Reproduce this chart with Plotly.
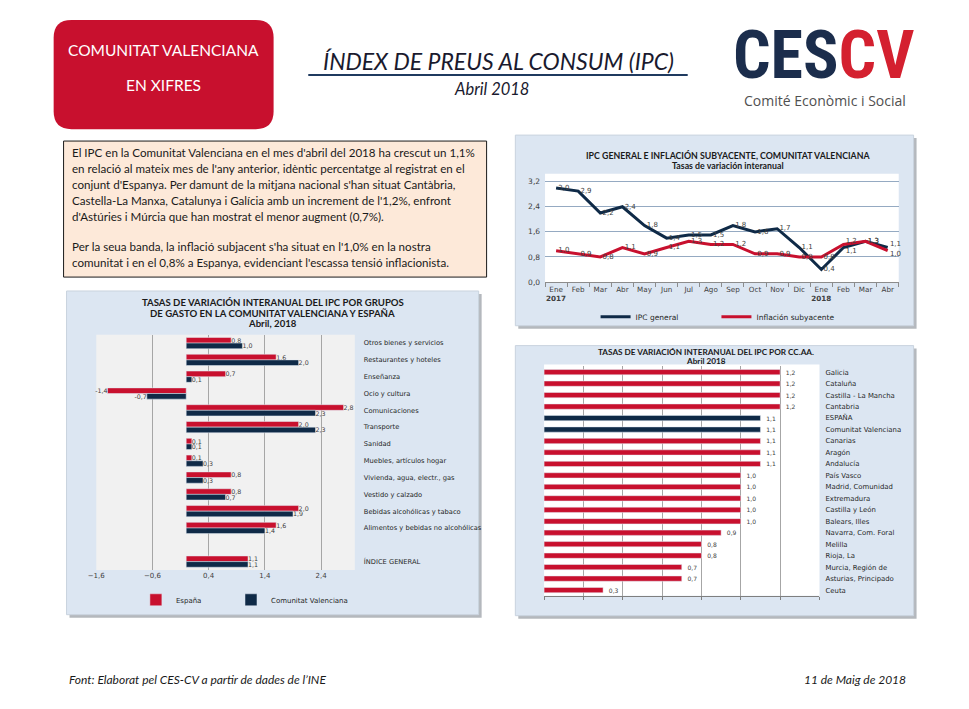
import plotly.graph_objects as go

# ---------------- data ----------------
periods = ["Ene 2017", "Feb 2017", "Mar 2017", "Abr 2017", "May 2017", "Jun 2017", "Jul 2017",
           "Ago 2017", "Sep 2017", "Oct 2017", "Nov 2017", "Dic 2017", "Ene 2018", "Feb 2018",
           "Mar 2018", "Abr 2018"]
period_labels = ["Ene<br><b>2017</b>", "Feb", "Mar", "Abr", "May", "Jun", "Jul", "Ago", "Sep", "Oct",
                 "Nov", "Dic", "Ene<br><b>2018</b>", "Feb", "Mar", "Abr"]
ipc_general = [3.0, 2.9, 2.2, 2.4, 1.8, 1.4, 1.5, 1.5, 1.8, 1.6, 1.7, 1.1, 0.4, 1.1, 1.3, 1.1]
inflacion_subyacente = [1.0, 0.9, 0.8, 1.1, 0.9, 1.1, 1.3, 1.2, 1.2, 0.9, 0.9, 0.8, 0.8, 1.2, 1.3, 1.0]

grupos = ["Otros bienes y servicios", "Restaurantes y hoteles", "Enseñanza", "Ocio y cultura",
          "Comunicaciones", "Transporte", "Sanidad", "Muebles, artículos hogar",
          "Vivienda, agua, electr., gas", "Vestido y calzado", "Bebidas alcohólicas y tabaco",
          "Alimentos y bebidas no alcohólicas", " ", "ÍNDICE GENERAL"]
espana_grupos = [0.8, 1.6, 0.7, -1.4, 2.8, 2.0, 0.1, 0.1, 0.8, 0.8, 2.0, 1.6, None, 1.1]
cv_grupos = [1.0, 2.0, 0.1, -0.7, 2.3, 2.3, 0.1, 0.3, 0.3, 0.7, 1.9, 1.4, None, 1.1]

ccaa = ["Galicia", "Cataluña", "Castilla - La Mancha", "Cantabria", "ESPAÑA", "Comunitat Valenciana",
        "Canarias", "Aragón", "Andalucía", "País Vasco", "Madrid, Comunidad", "Extremadura",
        "Castilla y León", "Balears, Illes", "Navarra, Com. Foral", "Melilla", "Rioja, La",
        "Murcia, Región de", "Asturias, Principado", "Ceuta"]
ipc_ccaa = [1.2, 1.2, 1.2, 1.2, 1.1, 1.1, 1.1, 1.1, 1.1, 1.0, 1.0, 1.0, 1.0, 1.0, 0.9, 0.8, 0.8, 0.7, 0.7, 0.3]
destacadas = ["ESPAÑA", "Comunitat Valenciana"]

texto = [
    "El IPC en la Comunitat Valenciana en el mes d'abril del 2018 ha crescut un 1,1%",
    "en relació al mateix mes de l'any anterior, idèntic percentatge al registrat en el",
    "conjunt d'Espanya. Per damunt de la mitjana nacional s'han situat Cantàbria,",
    "Castella-La Manxa, Catalunya i Galícia amb un increment de l'1,2%, enfront",
    "d'Astúries i Múrcia que han mostrat el menor augment (0,7%).",
    "",
    "Per la seua banda, la inflació subjacent s'ha situat en l'1,0% en la nostra",
    "comunitat i en el 0,8% a Espanya, evidenciant l'escassa tensió inflacionista.",
]

# ---------------- style ----------------
W, H = 969, 709
RED = "#c8102e"
NAVY = "#0f2a47"
PANEL = "#dce6f2"
SHADOW = "#b4b8bd"
LABEL = "#404040"
CHART_FONT = "DejaVu Sans"
TITLE_FONT = "Lato"
NARROW = "Liberation Sans Narrow, Roboto Condensed, Arial Narrow, Liberation Sans"


def X(x):
    return x / W


def Y(y):
    return 1 - y / H


fig = go.Figure()

# ---------- line chart ----------
n = len(periods)
ipc_pos = ["middle right"] * n
sub_pos = ["middle right"] * n
ipc_pos[-3], sub_pos[-3] = "bottom right", "top right"
ipc_pos[-1], sub_pos[-1] = "top right", "bottom right"
fig.add_trace(go.Scatter(
    x=periods, y=ipc_general, name="IPC general", mode="lines+text",
    line=dict(color=NAVY, width=3), texttemplate=" %{y:.1f}", textposition=ipc_pos,
    textfont=dict(size=7, color=LABEL, family=CHART_FONT),
    xaxis="x", yaxis="y", legend="legend", cliponaxis=False))
fig.add_trace(go.Scatter(
    x=periods, y=inflacion_subyacente, name="Inflación subyacente", mode="lines+text",
    line=dict(color=RED, width=3), texttemplate=" %{y:.1f}", textposition=sub_pos,
    textfont=dict(size=7, color=LABEL, family=CHART_FONT),
    xaxis="x", yaxis="y", legend="legend3", cliponaxis=False))

# ---------- grouped bars ----------
fig.add_trace(go.Bar(
    y=grupos, x=espana_grupos, orientation="h", name="España", marker=dict(color=RED),
    texttemplate="%{x:.1f}", textposition="outside", constraintext="none", cliponaxis=False,
    textfont=dict(size=6.3, color=LABEL, family=CHART_FONT), xaxis="x2", yaxis="y2",
    legend="legend2"))
fig.add_trace(go.Bar(
    y=grupos, x=cv_grupos, orientation="h", name="Comunitat Valenciana", marker=dict(color=NAVY),
    texttemplate="%{x:.1f}", textposition="outside", constraintext="none", cliponaxis=False,
    textfont=dict(size=6.3, color=LABEL, family=CHART_FONT), xaxis="x2", yaxis="y2",
    legend="legend4"))

# ---------- CCAA bars ----------
fig.add_trace(go.Bar(
    y=ccaa, x=ipc_ccaa, orientation="h", name="CC.AA.", width=0.46,
    marker=dict(color=[NAVY if c in destacadas else RED for c in ccaa]),
    texttemplate="   %{x:.1f}", textposition="outside", constraintext="none", cliponaxis=False,
    textfont=dict(size=6, color=LABEL, family=CHART_FONT), xaxis="x3", yaxis="y4",
    showlegend=False))

# ---------- domains ----------
line_dom_x = [X(533), X(890)]
line_dom_y = [Y(276), Y(167)]
grp_dom_x = [X(80), X(341)]
grp_dom_y = [Y(566), Y(329)]
grp_range = [-1.6, 3.0]
cc_dom_x = [X(532), X(810)]
cc_dom_y = [Y(592), Y(361)]
zero_pos = grp_dom_x[0] + (0 - grp_range[0]) / (grp_range[1] - grp_range[0]) * (grp_dom_x[1] - grp_dom_x[0])

tickfont = dict(size=7.2, color="#404040", family=CHART_FONT)


def leg(x, y, size=7.5):
    return dict(orientation="h", x=X(x), y=Y(y), xanchor="left", yanchor="middle",
                bgcolor="rgba(0,0,0,0)", font=dict(size=size, color="#262626", family=CHART_FONT),
                itemwidth=30)


fig.update_layout(
    width=W, height=H, margin=dict(l=0, r=0, t=0, b=0),
    paper_bgcolor="white", plot_bgcolor="rgba(0,0,0,0)",
    separators=",.", barmode="group", bargap=0.33, bargroupgap=0,
    font=dict(family=CHART_FONT, color="#262626"),
    xaxis=dict(domain=line_dom_x, anchor="y", type="category", tickvals=periods, ticktext=period_labels,
               range=[-0.5, 15.5], showline=True, linecolor="#8c8c8c", ticks="outside", tickangle=0,
               tickson="boundaries", ticklen=4, tickcolor="#8c8c8c", tickfont=tickfont, showgrid=False),
    yaxis=dict(domain=line_dom_y, anchor="x", range=[0, 3.45], tick0=0, dtick=0.8, tickformat=".1f",
               showgrid=True, gridcolor="#95aac2", gridwidth=1, zeroline=False, showline=False,
               tickfont=dict(size=7.5, color="#404040", family=CHART_FONT), ticks="", ticklabelstandoff=4),
    xaxis2=dict(domain=grp_dom_x, anchor="y2", range=grp_range, tick0=-1.6, dtick=1, tickformat=".1f",
                showgrid=True, gridcolor="#a6a6a6", zeroline=False, showline=False, ticks="",
                tickfont=dict(size=7, color="#404040", family=CHART_FONT)),
    yaxis2=dict(domain=grp_dom_y, anchor="x2", type="category", categoryorder="array",
                categoryarray=grupos, range=[13.5, -0.5], side="right", ticks="", showgrid=False,
                showline=False, ticklabelstandoff=8,
                tickfont=dict(size=6.7, color="#262626", family=CHART_FONT)),
    yaxis3=dict(overlaying="y2", anchor="free", position=zero_pos, range=[13.5, -0.5], tick0=-0.5,
                dtick=1, showticklabels=False, ticks="outside", ticklen=3, tickcolor="#7f7f7f",
                showline=True, linecolor="#7f7f7f", showgrid=False, zeroline=False),
    xaxis3=dict(domain=cc_dom_x, anchor="y4", range=[0, 1.4], dtick=0.2, showticklabels=False,
                showgrid=True, gridcolor="#a6a6a6", zeroline=False, showline=True, linecolor="#7f7f7f",
                ticks="outside", ticklen=3, tickcolor="#7f7f7f"),
    yaxis4=dict(domain=cc_dom_y, anchor="x3", type="category", categoryorder="array",
                categoryarray=ccaa, range=[19.5, -0.5], side="right", ticks="", showgrid=False,
                showline=False, ticklabelstandoff=5,
                tickfont=dict(size=6.9, color="#262626", family=CHART_FONT)),
    yaxis5=dict(overlaying="y4", anchor="x3", side="left", range=[19.5, -0.5], tick0=-0.5, dtick=1,
                showticklabels=False, ticks="outside", ticklen=3, tickcolor="#7f7f7f", showline=True,
                linecolor="#7f7f7f", showgrid=False, zeroline=False),
    legend=leg(584, 311),
    legend3=leg(706, 311),
    legend2=leg(120, 596, 7),
    legend4=leg(216, 596, 7),
)

# ---------- shapes ----------
shapes = []


def rect(x0, y0, x1, y1, fill, line_color=None, line_width=0):
    return dict(type="rect", xref="paper", yref="paper", x0=X(x0), x1=X(x1), y0=Y(y1), y1=Y(y0),
                fillcolor=fill, line=dict(color=line_color or fill, width=line_width), layer="below")


def panel(x0, y0, x1, y1):
    shapes.append(rect(x0 + 3, y0 + 3, x1 + 3, y1 + 3, SHADOW))
    shapes.append(rect(x0, y0, x1, y1, PANEL, "#c9d3de", 1))


def rounded(x0, y0, x1, y1, r, fill):
    pts = lambda x, y: f"{X(x):.5f},{Y(y):.5f}"
    path = (f"M {pts(x0 + r, y0)} L {pts(x1 - r, y0)} Q {pts(x1, y0)} {pts(x1, y0 + r)} "
            f"L {pts(x1, y1 - r)} Q {pts(x1, y1)} {pts(x1 - r, y1)} L {pts(x0 + r, y1)} "
            f"Q {pts(x0, y1)} {pts(x0, y1 - r)} L {pts(x0, y0 + r)} Q {pts(x0, y0)} {pts(x0 + r, y0)} Z")
    return dict(type="path", xref="paper", yref="paper", path=path, fillcolor=fill,
                line=dict(color=fill, width=0), layer="below")


shapes.append(rounded(37, 12, 259, 122, 18, RED))
shapes.append(dict(type="line", xref="paper", yref="paper", x0=X(294), x1=X(677), y0=Y(67.5), y1=Y(67.5),
                   line=dict(color="#1f3a5f", width=2)))
shapes.append(rect(47, 134, 474, 271, "#fde9d9", "#1a1a1a", 1))
panel(503, 128, 905, 320)
shapes.append(rect(533, 167, 890, 276, "white"))
panel(50, 285, 466, 611)
shapes.append(rect(80, 329, 341, 566, "#f1f1f1"))
panel(503, 340, 905, 612)
shapes.append(rect(532, 359, 810, 592, "white"))
fig.update_layout(shapes=shapes)

# ---------- annotations ----------
ann = []


def text(x, y, s, size, color="#262626", family=TITLE_FONT, xanchor="center", bold=False, italic=False):
    if bold:
        s = f"<b>{s}</b>"
    if italic:
        s = f"<i>{s}</i>"
    ann.append(dict(x=X(x), y=Y(y), xref="paper", yref="paper", text=s, showarrow=False,
                    xanchor=xanchor, yanchor="middle", font=dict(size=size, color=color, family=family)))


# header
text(148, 42, "COMUNITAT VALENCIANA", 15.5, "white", TITLE_FONT)
text(148, 78, "EN XIFRES", 15.5, "white", TITLE_FONT)
text(486, 53, "ÍNDEX DE PREUS AL CONSUM (IPC)", 23, "#1a1a2e", TITLE_FONT, italic=True)
text(479, 82, "Abril 2018", 16.5, "#1a1a2e", TITLE_FONT, italic=True)
ann.append(dict(x=X(814), y=Y(48), xref="paper", yref="paper", showarrow=False, xanchor="center",
                yanchor="middle",
                text="<span style='color:#1b2d4c'>CES</span><span style='color:#d4202f'>CV</span>",
                font=dict(size=66, family=NARROW, color="#1b2d4c", weight="bold")))
text(816, 93, "Comité Econòmic i Social", 14, "#505050", "Open Sans")

# body text
ys = [146, 162, 178, 194, 210, 225, 240, 256]
for line, yy in zip(texto, ys):
    if line:
        text(54, yy, line, 11.6, "#1a1a1a", TITLE_FONT, xanchor="left")

# chart titles
text(718, 149, "IPC GENERAL E INFLACIÓN SUBYACENTE, COMUNITAT VALENCIANA", 8.8, "#1a1a1a", bold=True)
text(718, 159, "Tasas de variación interanual", 8.8, "#1a1a1a", bold=True)
text(258, 297, "TASAS DE VARIACIÓN INTERANUAL DEL IPC POR GRUPOS", 9.6, "#1a1a1a", bold=True)
text(258, 307.5, "DE GASTO EN LA COMUNITAT VALENCIANA Y ESPAÑA", 9.6, "#1a1a1a", bold=True)
text(258, 318, "Abril, 2018", 9.6, "#1a1a1a", bold=True)
text(695, 346.5, "TASAS DE VARIACIÓN INTERANUAL DEL IPC POR CC.AA.", 8.2, "#1a1a1a", bold=True)
text(695, 356, "Abril 2018", 8.2, "#1a1a1a", bold=True)

# footer
text(50, 676, "Font: Elaborat pel CES-CV a partir de dades de l’INE", 12, "#1a1a1a", TITLE_FONT,
     xanchor="left", italic=True)
ann.append(dict(x=X(899), y=Y(676), xref="paper", yref="paper", showarrow=False, xanchor="right",
                yanchor="middle", text="<i>11 de Maig de 2018</i>",
                font=dict(size=12, color="#1a1a1a", family=TITLE_FONT)))

fig.update_layout(annotations=ann)

fig.write_html("out.html")
